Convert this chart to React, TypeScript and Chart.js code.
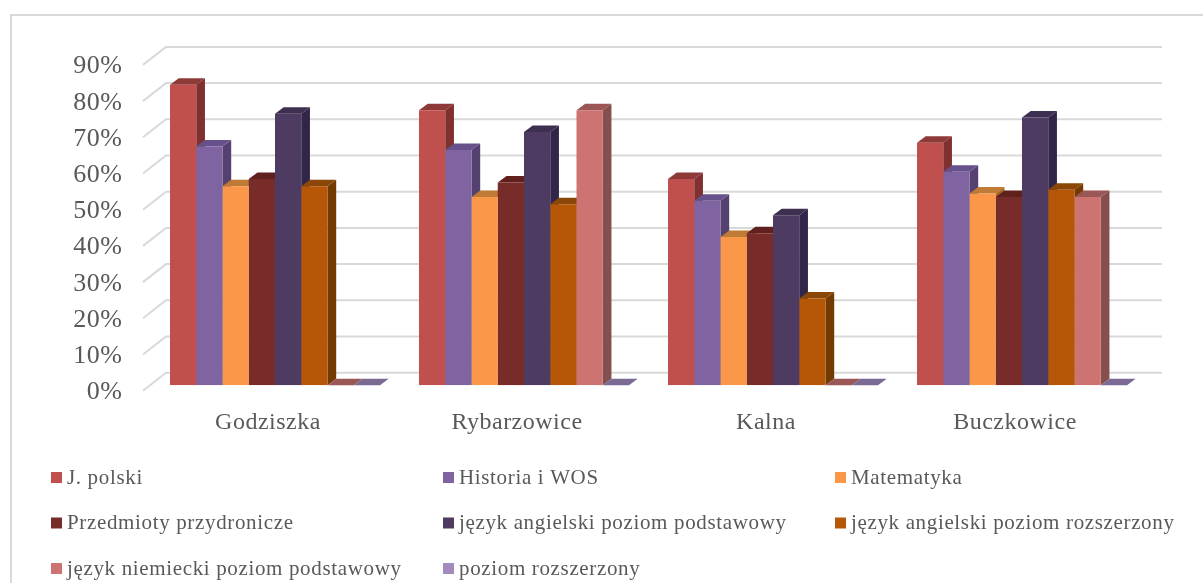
import React, { useEffect, useRef } from "react";
import { Chart, registerables } from "chart.js";

Chart.register(...registerables);

const categories = ["Godziszka", "Rybarzowice", "Kalna", "Buczkowice"];
const seriesNames = [
  "J. polski",
  "Historia i WOS",
  "Matematyka",
  "Przedmioty przydronicze",
  "język angielski poziom podstawowy",
  "język angielski poziom rozszerzony",
  "język niemiecki poziom podstawowy",
  "poziom rozszerzony",
];
const jPolski = [83, 76, 57, 67];
const historia = [66, 65, 51, 59];
const matematyka = [55, 52, 41, 53];
const przyroda = [57, 56, 42, 52];
const angielskiPodst = [75, 70, 47, 74];
const angielskiRozsz = [55, 50, 24, 54];
const niemieckiPodst = [0, 76, 0, 52];
const poziomRozsz = [0, 0, 0, 0];
const seriesValues = [jPolski, historia, matematyka, przyroda, angielskiPodst, angielskiRozsz, niemieckiPodst, poziomRozsz];

const frontColors = ["#C0504D", "#8064A2", "#FA9748", "#772C2A", "#4D3B62", "#B65708", "#CD7371", "#A38BBE"];
const sideColors = ["#7F302F", "#54416F", "#A86528", "#521D1C", "#31264A", "#733A02", "#854F4E", "#6A5A86"];
const topColors = ["#8E3A38", "#66518A", "#BF7A35", "#5F201E", "#3C2F50", "#8A4707", "#9A5755", "#7A6A94"];

const FONT = '"Liberation Serif", serif';
const TEXT = "#595959";
const GRID = "#D9D9D9";

const scene3d = {
  id: "scene3d",
  beforeDraw(chart: any) {
    const { ctx } = chart;
    ctx.letterSpacing = "0.5px";
    ctx.save();
    ctx.strokeStyle = GRID;
    ctx.lineWidth = 2;
    ctx.beginPath();
    ctx.moveTo(11, 583);
    ctx.lineTo(11, 15);
    ctx.lineTo(1203, 15);
    ctx.stroke();
    ctx.restore();
  },
  beforeDatasetsDraw(chart: any) {
    const { ctx, scales } = chart;
    const y = scales.y;
    ctx.save();
    ctx.strokeStyle = GRID;
    ctx.lineWidth = 2;
    for (const tick of y.ticks) {
      const py = y.getPixelForValue(tick.value);
      ctx.beginPath();
      ctx.moveTo(143, py + 5.4);
      ctx.lineTo(166, py - 12.6);
      ctx.lineTo(1162, py - 12.6);
      ctx.stroke();
    }
    const dx = 8.7;
    const dy = 6.5;
    chart.data.datasets.forEach((_: any, i: number) => {
      const meta = chart.getDatasetMeta(i);
      meta.data.forEach((bar: any) => {
        const l = bar.x - bar.width / 2;
        const r = bar.x + bar.width / 2;
        const t = bar.y;
        const b = bar.base;
        ctx.fillStyle = sideColors[i];
        ctx.beginPath();
        ctx.moveTo(r, t);
        ctx.lineTo(r + dx, t - dy);
        ctx.lineTo(r + dx, b - dy);
        ctx.lineTo(r, b);
        ctx.closePath();
        ctx.fill();
        ctx.fillStyle = topColors[i];
        ctx.beginPath();
        ctx.moveTo(l, t);
        ctx.lineTo(l + dx, t - dy);
        ctx.lineTo(r + dx, t - dy);
        ctx.lineTo(r, t);
        ctx.closePath();
        ctx.fill();
      });
    });
    ctx.restore();
  },
  afterDraw(chart: any) {
    const { ctx } = chart;
    const colX = [51, 443, 835];
    const rowY = [478, 523.5, 569];
    ctx.save();
    ctx.letterSpacing = "0.65px";
    ctx.font = `21px ${FONT}`;
    ctx.textBaseline = "middle";
    ctx.textAlign = "left";
    chart.data.datasets.forEach((ds: any, i: number) => {
      const x = colX[i % 3];
      const yy = rowY[Math.floor(i / 3)];
      ctx.fillStyle = ds.backgroundColor;
      ctx.fillRect(x, yy - 6, 11, 11);
      ctx.fillStyle = TEXT;
      ctx.fillText(ds.label, x + 16, yy);
    });
    ctx.restore();
  },
};

export default function App() {
  const ref = useRef<HTMLCanvasElement>(null);
  useEffect(() => {
    const chart = new Chart(ref.current!, {
      type: "bar",
      data: {
        labels: categories,
        datasets: seriesNames.map((label, i) => ({
          label,
          data: seriesValues[i],
          backgroundColor: frontColors[i],
          borderWidth: 0,
          barPercentage: 1,
          categoryPercentage: 210 / 249,
        })),
      },
      options: {
        responsive: false,
        animation: false,
        layout: { padding: { left: 0, right: 56.5, top: 59.5, bottom: 0 } },
        plugins: { legend: { display: false }, tooltip: { enabled: false }, title: { display: false } },
        scales: {
          x: {
            grid: { display: false },
            border: { display: false },
            afterFit: (s: any) => {
              s.height = 197.7;
            },
            ticks: {
              color: TEXT,
              font: { family: FONT, size: 24 },
              padding: 15,
              labelOffset: -7,
              maxRotation: 0,
              autoSkip: false,
            },
          },
          y: {
            min: 0,
            max: 90,
            grid: { display: false },
            border: { display: false },
            afterFit: (s: any) => {
              s.width = 150.5;
            },
            ticks: {
              stepSize: 10,
              color: TEXT,
              font: { family: FONT, size: 26 },
              padding: 20,
              labelOffset: 7,
              callback: (v: any) => `${v}%`,
            },
          },
        },
      },
      plugins: [scene3d],
    });
    return () => chart.destroy();
  }, []);
  return (
    <div style={{ position: "fixed", left: 0, top: 0, width: 1203, height: 583, background: "#fff" }}>
      <canvas ref={ref} width={1203} height={583} style={{ display: "block" }} />
    </div>
  );
}
